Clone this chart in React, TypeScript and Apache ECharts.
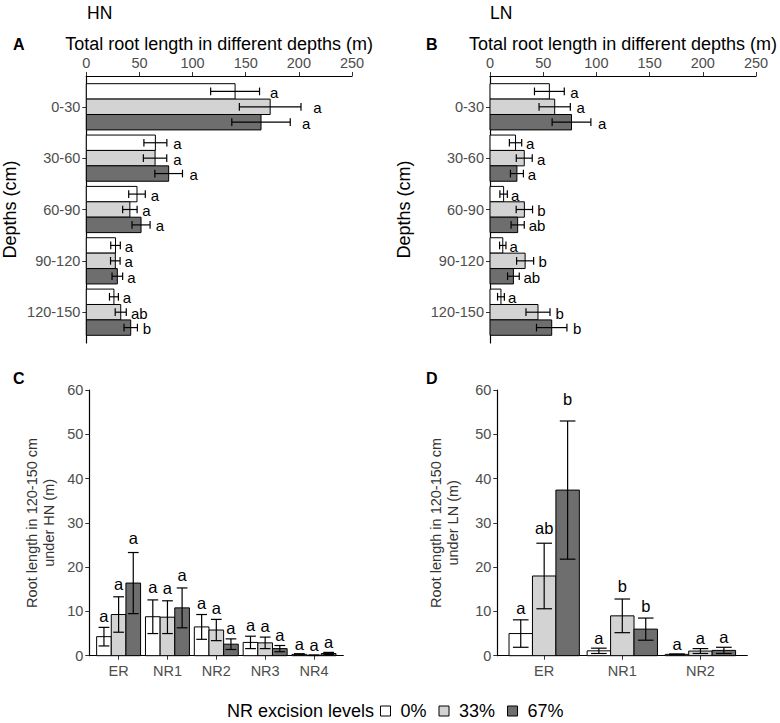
import React, { useEffect, useRef } from "react";
import * as echarts from "echarts";

// ---------- data ----------
const depths = ["0-30", "30-60", "60-90", "90-120", "120-150"];
const levels = ["0%", "33%", "67%"];

// Panel A (HN) total root length (m), mean and standard error
const hn0 = [140, 65, 47.7, 27.5, 26];
const hn0Se = [23, 10.8, 7.8, 4.5, 4.2];
const hn33 = [173, 64.7, 41, 27.3, 32.4];
const hn33Se = [29, 11, 6.8, 4.5, 5.2];
const hn67 = [164.4, 77.5, 51.5, 29.2, 41.8];
const hn67Se = [27.5, 13, 8.5, 5, 6.3];
const hn0Let = ["a", "a", "a", "a", "a"];
const hn33Let = ["a", "a", "a", "a", "ab"];
const hn67Let = ["a", "a", "a", "a", "b"];

// Panel B (LN)
const ln0 = [55.8, 24, 12.8, 12, 10.3];
const ln0Se = [14, 5.8, 3.5, 3, 3.2];
const ln33 = [60.8, 32.2, 32.3, 33, 45.1];
const ln33Se = [14.7, 7.5, 7.7, 8, 11.3];
const ln67 = [76.6, 25.3, 26, 22, 58];
const ln67Se = [18.2, 6.1, 6.2, 5.5, 14.3];
const ln0Let = ["a", "a", "a", "a", "a"];
const ln33Let = ["a", "a", "b", "b", "b"];
const ln67Let = ["a", "a", "ab", "ab", "b"];

// Panel C (HN, 120-150 cm by root type)
const rootsC = ["ER", "NR1", "NR2", "NR3", "NR4"];
const c0 = [4.3, 8.8, 6.5, 3.0, 0.3];
const c0Se = [2.1, 3.8, 2.8, 1.4, 0.15];
const c33 = [9.3, 8.7, 5.8, 2.9, 0.1];
const c33Se = [4.0, 3.7, 2.4, 1.3, 0.05];
const c67 = [16.4, 10.8, 2.6, 1.6, 0.5];
const c67Se = [6.9, 4.5, 1.2, 0.7, 0.25];
const c0Let = ["a", "a", "a", "a", "a"];
const c33Let = ["a", "a", "a", "a", "a"];
const c67Let = ["a", "a", "a", "a", "a"];

// Panel D (LN, 120-150 cm by root type)
const rootsD = ["ER", "NR1", "NR2"];
const d0 = [5.0, 1.1, 0.3];
const d0Se = [3.1, 0.6, 0.1];
const d33 = [18.0, 9.0, 1.05];
const d33Se = [7.4, 3.8, 0.55];
const d67 = [37.4, 6.0, 1.2];
const d67Se = [15.6, 2.5, 0.7];
const d0Let = ["a", "a", "a"];
const d33Let = ["ab", "b", "a"];
const d67Let = ["b", "b", "a"];

const xTicksAB = [0, 50, 100, 150, 200, 250];
const yTicksCD = [0, 10, 20, 30, 40, 50, 60];

// ---------- styles ----------
const FONT = '"Liberation Sans", Arial, Helvetica, sans-serif';
const TICK = "#4D4D4D";
const fills = ["#FFFFFF", "#D3D3D3", "#6E6E6E"];

function hSeries(g: number, means: number[], ses: number[], lets: string[], j: number, capW: number) {
  return {
    type: "custom",
    name: levels[j],
    xAxisIndex: g,
    yAxisIndex: g,
    itemStyle: { color: fills[j], borderColor: "#000", borderWidth: 1 },
    encode: { x: 1, y: 0 },
    data: means.map((m, i) => [i + 1, m, ses[i]]),
    clip: false,
    renderItem: (params: any, api: any) => {
      const cat = api.value(0);
      const v = api.value(1);
      const e = api.value(2);
      const yc = cat + (j - 1) * 0.3;
      const a = api.coord([0, yc - 0.15]);
      const b = api.coord([v, yc + 0.15]);
      const l = api.coord([v - e, yc]);
      const r = api.coord([v + e, yc]);
      const capT = api.coord([v, yc - capW / 2])[1];
      const capB = api.coord([v, yc + capW / 2])[1];
      const t = api.coord([v + e + 0.05 * v, yc]);
      const ln = { stroke: "#000", lineWidth: 1.2 };
      return {
        type: "group",
        children: [
          {
            type: "rect",
            shape: { x: a[0], y: Math.min(a[1], b[1]), width: b[0] - a[0], height: Math.abs(b[1] - a[1]) },
            style: { fill: fills[j], stroke: "#000", lineWidth: 1 },
          },
          { type: "line", shape: { x1: l[0], y1: l[1], x2: r[0], y2: r[1] }, style: ln },
          { type: "line", shape: { x1: l[0], y1: capT, x2: l[0], y2: capB }, style: ln },
          { type: "line", shape: { x1: r[0], y1: capT, x2: r[0], y2: capB }, style: ln },
          {
            type: "text",
            x: t[0] + 3,
            y: t[1] + 1,
            style: {
              text: lets[params.dataIndex],
              fill: "#000",
              fontSize: 15,
              lineHeight: 13,
              fontFamily: FONT,
              align: "left",
              verticalAlign: "middle",
            },
          },
        ],
      };
    },
  };
}

function vSeries(g: number, means: number[], ses: number[], lets: string[], j: number, capW: number) {
  return {
    type: "custom",
    name: levels[j],
    xAxisIndex: g,
    yAxisIndex: g,
    itemStyle: { color: fills[j], borderColor: "#000", borderWidth: 1 },
    encode: { x: 0, y: 1 },
    data: means.map((m, i) => [i + 1, m, ses[i]]),
    clip: false,
    renderItem: (params: any, api: any) => {
      const cat = api.value(0);
      const v = api.value(1);
      const e = api.value(2);
      const xc = cat + (j - 1) * 0.3;
      const a = api.coord([xc - 0.15, 0]);
      const b = api.coord([xc + 0.15, v]);
      const lo = api.coord([xc, Math.max(v - e, 0)]);
      const hi = api.coord([xc, v + e]);
      const capL = api.coord([xc - capW / 2, v])[0];
      const capR = api.coord([xc + capW / 2, v])[0];
      const t = api.coord([xc, v + e + 1 + 0.07 * v]);
      const ln = { stroke: "#000", lineWidth: 1.2 };
      return {
        type: "group",
        children: [
          {
            type: "rect",
            shape: { x: a[0], y: Math.min(a[1], b[1]), width: b[0] - a[0], height: Math.abs(b[1] - a[1]) },
            style: { fill: fills[j], stroke: "#000", lineWidth: 1 },
          },
          { type: "line", shape: { x1: lo[0], y1: lo[1], x2: hi[0], y2: hi[1] }, style: ln },
          { type: "line", shape: { x1: capL, y1: lo[1], x2: capR, y2: lo[1] }, style: ln },
          { type: "line", shape: { x1: capL, y1: hi[1], x2: capR, y2: hi[1] }, style: ln },
          {
            type: "text",
            x: t[0],
            y: t[1] + 3,
            style: {
              text: lets[params.dataIndex],
              fill: "#000",
              fontSize: 16.5,
              fontFamily: FONT,
              align: "center",
              verticalAlign: "bottom",
            },
          },
        ],
      };
    },
  };
}

const axisLine = { show: true, onZero: false, lineStyle: { color: "#000", width: 1.2 } };
const axisTick = { show: true, length: 4, lineStyle: { color: "#333", width: 1 } };
const lbl = { color: TICK, fontSize: 14.5, fontFamily: FONT };

function hxAxis(g: number) {
  return {
    gridIndex: g,
    type: "value",
    position: "top",
    min: xTicksAB[0],
    max: xTicksAB[xTicksAB.length - 1],
    interval: 50,
    axisLine,
    axisTick,
    axisLabel: { ...lbl, margin: 6 },
    splitLine: { show: false },
    name: "Total root length in different depths (m)",
    nameLocation: "middle",
    nameGap: 23,
    nameTextStyle: { fontSize: 18, color: "#000", fontFamily: FONT },
  };
}

function hyAxis(g: number, gap: number) {
  const vals = depths.map((_, i) => i + 1);
  return {
    gridIndex: g,
    type: "value",
    inverse: true,
    min: 0.4,
    max: depths.length + 0.6,
    axisLine,
    axisTick: { ...axisTick, customValues: vals },
    axisLabel: { ...lbl, margin: 6, customValues: vals, formatter: (v: number) => depths[Math.round(v) - 1] || "" },
    splitLine: { show: false },
    name: "Depths (cm)",
    nameLocation: "middle",
    nameRotate: 90,
    nameGap: gap,
    nameTextStyle: { fontSize: 18, color: "#000", fontFamily: FONT },
  };
}

function vxAxis(g: number, cats: string[]) {
  const vals = cats.map((_, i) => i + 1);
  return {
    gridIndex: g,
    type: "value",
    min: 0.4,
    max: cats.length + 0.6,
    axisLine,
    axisTick: { ...axisTick, customValues: vals },
    axisLabel: { ...lbl, margin: 8, customValues: vals, formatter: (v: number) => cats[Math.round(v) - 1] || "" },
    splitLine: { show: false },
  };
}

function vyAxis(g: number, name: string, gap: number) {
  return {
    gridIndex: g,
    type: "value",
    min: yTicksCD[0],
    max: yTicksCD[yTicksCD.length - 1],
    interval: 10,
    axisLine,
    axisTick,
    axisLabel: { ...lbl, margin: 6 },
    splitLine: { show: false },
    name,
    nameLocation: "middle",
    nameRotate: 90,
    nameGap: gap,
    nameTextStyle: { fontSize: 14.5, color: "#333", fontFamily: FONT, lineHeight: 17, align: "center" },
  };
}

function txt(text: string, x: number, y: number, size: number, bold = false, align = "left") {
  return {
    type: "text",
    x,
    y,
    style: {
      text,
      fill: "#000",
      fontSize: size,
      fontWeight: bold ? "bold" : "normal",
      fontFamily: FONT,
      align,
      verticalAlign: "middle",
    },
  };
}

export default function App() {
  const ref = useRef<HTMLDivElement>(null);
  useEffect(() => {
    if (!ref.current) return;
    const chart = echarts.init(ref.current, null, { renderer: "svg" });
    chart.setOption({
      animation: false,
      backgroundColor: "#FFFFFF",
      textStyle: { fontFamily: FONT },
      grid: [
        { left: 86.3, right: 428, top: 76, bottom: 380 },
        { left: 490, right: 24, top: 76, bottom: 380 },
        { left: 89.3, right: 436.7, top: 390, bottom: 67.3 },
        { left: 497.3, right: 32.7, top: 390, bottom: 67.3 },
      ],
      xAxis: [hxAxis(0), hxAxis(1), vxAxis(2, rootsC), vxAxis(3, rootsD)],
      yAxis: [
        hyAxis(0, 67),
        hyAxis(1, 77),
        vyAxis(2, "Root length in 120-150 cm\nunder HN (m)", 32),
        vyAxis(3, "Root length in 120-150 cm\nunder LN (m)", 36),
      ],
      legend: {
        left: 380,
        top: 701,
        padding: 0,
        itemWidth: 10,
        itemHeight: 10,
        itemGap: 12,
        icon: "rect",
        selectedMode: false,
        textStyle: { fontSize: 18, color: "#000", fontFamily: FONT, padding: [0, 0, 0, 5], lineHeight: 20 },
        data: levels.map((n, j) => ({
          name: n,
          itemStyle: { color: fills[j], borderColor: "#000", borderWidth: 1 },
        })),
      },
      graphic: [
        txt("HN", 87, 13, 17.5),
        txt("LN", 490, 13, 17.5),
        txt("A", 13, 44, 16, true),
        txt("B", 426, 44, 16, true),
        txt("C", 13, 378, 16, true),
        txt("D", 426, 378, 16, true),
        txt("NR excision levels", 374, 711, 18, false, "right"),
      ],
      series: [
        hSeries(0, hn0, hn0Se, hn0Let, 0, 0.15),
        hSeries(0, hn33, hn33Se, hn33Let, 1, 0.15),
        hSeries(0, hn67, hn67Se, hn67Let, 2, 0.15),
        hSeries(1, ln0, ln0Se, ln0Let, 0, 0.15),
        hSeries(1, ln33, ln33Se, ln33Let, 1, 0.15),
        hSeries(1, ln67, ln67Se, ln67Let, 2, 0.15),
        vSeries(2, c0, c0Se, c0Let, 0, 0.22),
        vSeries(2, c33, c33Se, c33Let, 1, 0.22),
        vSeries(2, c67, c67Se, c67Let, 2, 0.22),
        vSeries(3, d0, d0Se, d0Let, 0, 0.2),
        vSeries(3, d33, d33Se, d33Let, 1, 0.2),
        vSeries(3, d67, d67Se, d67Let, 2, 0.2),
      ],
    });
    return () => chart.dispose();
  }, []);
  return <div ref={ref} style={{ position: "fixed", left: 0, top: 0, width: 780, height: 723 }} />;
}
